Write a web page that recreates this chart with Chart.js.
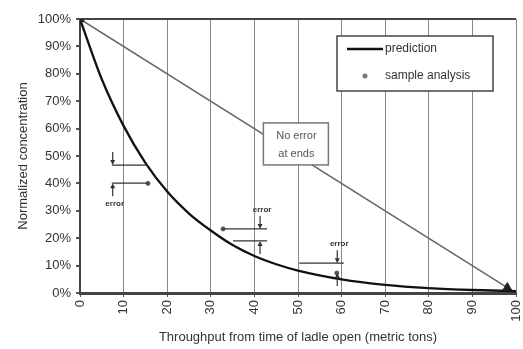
<!DOCTYPE html>
<html>
<head>
<meta charset="utf-8">
<script src="https://cdn.jsdelivr.net/npm/chart.js"></script>
<style>
  html, body { margin: 0; padding: 0; background: #fff; }
  #wrap { width: 523px; height: 349px; }
</style>
</head>
<body>
<div id="wrap"><canvas id="ladleChart" width="523" height="349"></canvas></div>
<script>
// values
var throughput = [0, 5, 10, 15, 20, 25, 30, 35, 40, 45, 50, 60, 70, 80, 90, 100];
var prediction = [100, 78, 61, 47.5, 37, 29, 22.8, 17.5, 13.5, 10.5, 8.2, 5, 3, 1.8, 1.1, 0.7];
var sampleX = [0, 15.6, 32.8, 58.9, 98];
var sampleY = [100, 40, 23.4, 7.3, 2];
var diagonalX = [0, 98];
var diagonalY = [100, 2];
var yTickValues = [0, 10, 20, 30, 40, 50, 60, 70, 80, 90, 100];

// error markers: arrow x, upper/lower level and horizontal extents (data units)
var errX = [7.5, 41.3, 59];
var errHi = [46.7, 23.4, 10.9];
var errLo = [40.1, 19, 7.3];
var errHiSpan = [[7.3, 15.6], [32.8, 42.9], [50.3, 60.5]];
var errLoSpan = [[7.3, 15.6], [35.1, 42.9], [58.9, 58.9]];
var errLabelBelow = [true, false, false];

var noErrorText = ['No error', 'at ends'];
var noErrorAt = [49.4, 54.4];

var FONT = "'Liberation Sans', Arial, sans-serif";
var INK = '#333';

function pts(xs, ys) {
    return xs.map(function(x, i) {
        return {x: x, y: ys[i]};
    });
}

/**
 * Arrow from (x, y0) to (x, y1), head at y1.
 */
function arrow(ctx, x, y0, y1) {
    var dir = y1 > y0 ? 1 : -1;
    ctx.beginPath();
    ctx.moveTo(x, y0);
    ctx.lineTo(x, y1 - dir * 3);
    ctx.stroke();
    ctx.beginPath();
    ctx.moveTo(x, y1);
    ctx.lineTo(x - 2.5, y1 - dir * 5);
    ctx.lineTo(x + 2.5, y1 - dir * 5);
    ctx.closePath();
    ctx.fill();
}

var extras = {
    id: 'extras',
    afterDatasetsDraw: function(chart) {
        var ctx = chart.ctx;
        var xs = chart.scales.x;
        var ys = chart.scales.y;
        var area = chart.chartArea;
        ctx.save();

        // error markers
        ctx.strokeStyle = '#333';
        ctx.fillStyle = '#333';
        ctx.lineWidth = 1.2;
        errX.forEach(function(ex, i) {
            var px = xs.getPixelForValue(ex);
            var hi = ys.getPixelForValue(errHi[i]);
            var lo = ys.getPixelForValue(errLo[i]);
            [[errHiSpan[i], hi], [errLoSpan[i], lo]].forEach(function(s) {
                if (s[0][0] === s[0][1]) {
                    return;
                }
                ctx.beginPath();
                ctx.moveTo(xs.getPixelForValue(s[0][0]), s[1]);
                ctx.lineTo(xs.getPixelForValue(s[0][1]), s[1]);
                ctx.stroke();
            });
            arrow(ctx, px, hi - 13, hi);
            arrow(ctx, px, lo + 13, lo);
            ctx.font = 'bold 8px ' + FONT;
            ctx.textAlign = 'center';
            ctx.textBaseline = 'middle';
            ctx.fillText('error', px + 2, errLabelBelow[i] ? lo + 21 : hi - 19);
        });

        // "No error at ends" box
        var cx = xs.getPixelForValue(noErrorAt[0]);
        var cy = ys.getPixelForValue(noErrorAt[1]);
        ctx.fillStyle = '#fff';
        ctx.fillRect(cx - 32, cy - 21, 65, 42);
        ctx.strokeStyle = '#777';
        ctx.lineWidth = 1.5;
        ctx.strokeRect(cx - 32, cy - 21, 65, 42);
        ctx.fillStyle = '#555';
        ctx.font = '11px ' + FONT;
        ctx.fillText(noErrorText[0], cx + 1, cy - 8);
        ctx.fillText(noErrorText[1], cx + 1, cy + 10);

        // legend box
        var lx = area.right - 179;
        var ly = area.top + 17;
        ctx.fillStyle = '#fff';
        ctx.fillRect(lx, ly, 156, 55);
        ctx.strokeStyle = '#444';
        ctx.lineWidth = 1.5;
        ctx.strokeRect(lx, ly, 156, 55);
        ctx.strokeStyle = '#111';
        ctx.lineWidth = 2.5;
        ctx.beginPath();
        ctx.moveTo(lx + 10, ly + 13);
        ctx.lineTo(lx + 46, ly + 13);
        ctx.stroke();
        ctx.fillStyle = '#777';
        ctx.beginPath();
        ctx.arc(lx + 28, ly + 40, 2.5, 0, Math.PI * 2);
        ctx.fill();
        ctx.fillStyle = INK;
        ctx.font = '12px ' + FONT;
        ctx.textAlign = 'left';
        ctx.fillText(chart.data.datasets[0].label, lx + 48, ly + 13);
        ctx.fillText(chart.data.datasets[2].label, lx + 48, ly + 40);

        ctx.restore();
    }
};

new Chart(document.getElementById('ladleChart'), {
    type: 'scatter',
    data: {
        datasets: [{
            label: 'prediction',
            type: 'line',
            data: pts(throughput, prediction),
            borderColor: '#111',
            borderWidth: 2.3,
            pointRadius: 0,
            cubicInterpolationMode: 'monotone',
            order: 1
        }, {
            label: 'no error at ends',
            type: 'line',
            data: pts(diagonalX, diagonalY),
            borderColor: '#666',
            borderWidth: 1.5,
            pointRadius: 0,
            order: 3
        }, {
            label: 'sample analysis',
            data: pts(sampleX, sampleY),
            pointStyle: ['triangle', 'circle', 'circle', 'circle', 'triangle'],
            pointRadius: [5, 2, 2, 2, 5],
            backgroundColor: ['#222', '#555', '#555', '#555', '#222'],
            borderColor: ['#222', '#555', '#555', '#555', '#222'],
            order: 0
        }]
    },
    plugins: [extras],
    options: {
        responsive: false,
        animation: false,
        layout: {
            padding: {top: 19, right: 7, left: 0, bottom: 0}
        },
        scales: {
            x: {
                type: 'linear',
                min: 0,
                max: 100,
                afterFit: function(scale) {
                    scale.height = 56;
                    scale.paddingLeft = 0;
                    scale.paddingRight = 0;
                },
                ticks: {
                    stepSize: 10,
                    minRotation: 90,
                    maxRotation: 90,
                    padding: 3,
                    color: INK,
                    font: {family: FONT, size: 13}
                },
                grid: {
                    color: '#888',
                    lineWidth: 1,
                    tickLength: 4,
                    tickColor: '#555'
                },
                border: {
                    color: '#444',
                    width: 3
                },
                title: {
                    display: true,
                    text: 'Throughput from time of ladle open (metric tons)',
                    color: INK,
                    font: {family: FONT, size: 13},
                    padding: {top: 0, bottom: 4}
                }
            },
            y: {
                min: 0,
                max: 100,
                afterFit: function(scale) {
                    scale.width = 80;
                },
                afterBuildTicks: function(scale) {
                    scale.ticks = yTickValues.map(function(v) {
                        return {value: v};
                    });
                },
                ticks: {
                    padding: 5,
                    color: INK,
                    font: {family: FONT, size: 13},
                    callback: function(v) {
                        return v + '%';
                    }
                },
                grid: {
                    color: function(c) {
                        return c.tick && c.tick.value === 100 ? '#444' : 'rgba(0,0,0,0)';
                    },
                    lineWidth: 2,
                    tickLength: 4,
                    tickColor: '#555'
                },
                border: {
                    color: '#444',
                    width: 2
                },
                title: {
                    display: true,
                    text: 'Normalized concentration',
                    color: INK,
                    font: {family: FONT, size: 13},
                    padding: {top: 16, bottom: 0}
                }
            }
        },
        plugins: {
            legend: {display: false},
            tooltip: {enabled: false}
        }
    }
});
</script>
</body>
</html>
